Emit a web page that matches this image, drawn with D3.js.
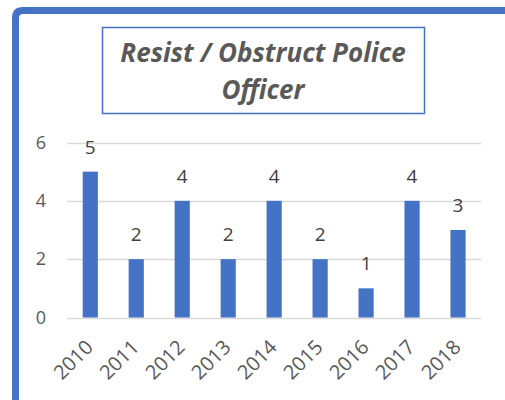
<!DOCTYPE html>
<html>
<head>
<meta charset="utf-8">
<script src="https://cdn.jsdelivr.net/npm/d3@7"></script>
<style>
  body { margin: 0; background: #fff; }
  svg { display: block; }
</style>
</head>
<body>
<svg id="chart"></svg>
<script>
const years = ["2010", "2011", "2012", "2013", "2014", "2015", "2016", "2017", "2018"];
const counts = [5, 2, 4, 2, 4, 2, 1, 4, 3];
const yTicks = [0, 2, 4, 6];
const titleLines = ["Resist / Obstruct Police", "Officer"];

const width = 505, height = 400;
const blue = "#4472C4";
const font = "'Open Sans', sans-serif";

const svg = d3.select("#chart")
    .attr("width", width)
    .attr("height", height);

// outer frame (only top and left edges are visible)
svg.append("path")
    .attr("d", "M15.5,410 L15.5,18 Q15.5,10.5 23,10.5 L515,10.5")
    .attr("fill", "none")
    .attr("stroke", blue)
    .attr("stroke-width", 7);

// title box
svg.append("rect")
    .attr("x", 102.5).attr("y", 27.5)
    .attr("width", 322).attr("height", 86)
    .attr("fill", "#fff")
    .attr("stroke", blue)
    .attr("stroke-width", 1.5);

svg.append("g").selectAll("text")
    .data(titleLines)
    .join("text")
    .attr("x", 263)
    .attr("y", (d, i) => 62 + i * 37)
    .attr("text-anchor", "middle")
    .style("font-family", font)
    .style("font-weight", "bold")
    .style("font-style", "italic")
    .style("font-size", "26px")
    .style("fill", "#595959")
    .text(d => d);

const x = d3.scaleBand()
    .domain(years)
    .range([67.3, 481])
    .paddingInner(0.67)
    .paddingOuter(0.335);

const y = d3.scaleLinear()
    .domain([0, 6])
    .range([317.5, 142.5]);

// gridlines
svg.append("g")
    .selectAll("line")
    .data(yTicks)
    .join("line")
    .attr("x1", 67.3).attr("x2", 481)
    .attr("y1", d => Math.round(y(d)) + 0.5)
    .attr("y2", d => Math.round(y(d)) + 0.5)
    .attr("stroke", "#d9d9d9")
    .attr("stroke-width", 1.5);

// y axis labels
const yAxis = svg.append("g")
    .attr("transform", "translate(46,0)")
    .call(d3.axisLeft(y).tickValues(yTicks).tickFormat(d3.format("d")).tickSize(0).tickPadding(0));
yAxis.select(".domain").remove();
yAxis.selectAll("text")
    .style("font-family", font)
    .style("font-size", "18px")
    .style("fill", "#595959");

// bars
svg.append("g")
    .selectAll("rect")
    .data(counts)
    .join("rect")
    .attr("x", (d, i) => x(years[i]))
    .attr("width", x.bandwidth())
    .attr("y", d => y(d))
    .attr("height", d => y(0) - y(d))
    .attr("fill", blue);

// value labels
svg.append("g")
    .selectAll("text")
    .data(counts)
    .join("text")
    .attr("x", (d, i) => x(years[i]) + x.bandwidth() / 2)
    .attr("y", d => y(d) - 18)
    .attr("text-anchor", "middle")
    .style("font-family", font)
    .style("font-size", "19px")
    .style("fill", "#404040")
    .text(d => d);

// x axis labels, rotated
const xAxis = svg.append("g")
    .attr("transform", "translate(0," + y(0) + ")")
    .call(d3.axisBottom(x).tickSize(0).tickPadding(0));
xAxis.select(".domain").remove();
xAxis.selectAll("text")
    .attr("text-anchor", "end")
    .attr("dy", null)
    .attr("y", 0)
    .attr("transform", "translate(4,31) rotate(-45)")
    .style("font-family", font)
    .style("font-size", "20px")
    .style("fill", "#595959");
</script>
</body>
</html>
